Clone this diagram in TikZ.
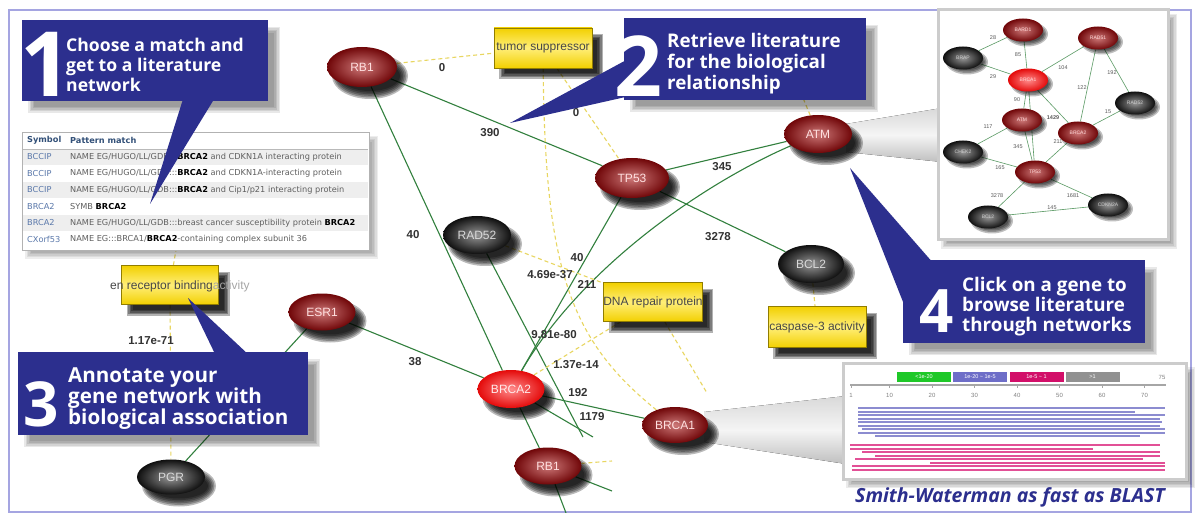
\documentclass[tikz,border=0pt]{standalone}
\usepackage{fontspec}
\setmainfont{Liberation Sans}
\newfontfamily\callfont{Open Sans}
\newfontfamily\tabfont{DejaVu Sans}
\usetikzlibrary{shapes.geometric}
\definecolor{blueC}{RGB}{44,47,142}
\definecolor{frameC}{RGB}{165,165,225}
\definecolor{edgeG}{RGB}{50,128,62}
\definecolor{dashY}{RGB}{232,214,96}
\definecolor{boxY}{RGB}{242,208,0}
\definecolor{boxYl}{RGB}{255,238,120}
\definecolor{redO}{RGB}{112,6,8}
\definecolor{redI}{RGB}{205,120,120}
\definecolor{hotO}{RGB}{228,10,10}
\definecolor{hotI}{RGB}{255,140,140}
\definecolor{blkO}{RGB}{15,15,15}
\definecolor{blkI}{RGB}{150,150,150}
\definecolor{labC}{RGB}{50,50,50}
\definecolor{tabSym}{RGB}{90,120,170}
\definecolor{tabTxt}{RGB}{95,95,95}
\definecolor{tabHead}{RGB}{50,80,120}
\definecolor{lavB}{RGB}{140,140,208}
\definecolor{pinkB}{RGB}{226,80,150}
\definecolor{lgG}{RGB}{30,200,40}
\definecolor{lgL}{RGB}{110,110,200}
\definecolor{lgM}{RGB}{210,15,105}
\definecolor{lgK}{RGB}{145,145,145}
% soft shadow of an ellipse: centre x, y, width, height, offset
\newcommand\eshad[5]{\foreach \k in {0,...,5}{\fill[black,opacity=0.27] (#1+#5,#2+#5+1) ellipse [x radius={#3/2+3-1.6*\k}, y radius={#4/2+3-1.6*\k}];}}
% soft shadow of a rectangle: x1, y1, x2, y2, offset, opacity
\newcommand\rshad[6]{\foreach \k in {0,...,4}{\fill[black,opacity=#6] (#1+#5-3+1.5*\k,#2+#5-2+1.5*\k) rectangle (#3+#5+3-1.5*\k,#4+#5+3-1.5*\k);}}
\tikzset{
 ph/.style={ellipse, inner sep=0},
 phb/.style={rectangle, inner sep=0},
 gene/.style={ellipse, minimum width=68, minimum height=38, inner sep=0,
   font=\fontsize{12}{12}\selectfont},
 redgene/.style={gene, inner color=redI, outer color=redO, text=white!88!red},
 hotgene/.style={gene, inner color=hotI, outer color=hotO, text=white!92!red},
 blkgene/.style={gene, inner color=blkI, outer color=blkO, text=white!85!black},
 mgene/.style={ellipse, minimum width=40, minimum height=23, inner sep=0,
   font=\fontsize{5}{5}\selectfont},
 mred/.style={mgene, inner color=redI, outer color=redO, text=white!85!red},
 mhot/.style={mgene, inner color=hotI, outer color=hotO, text=white!85!red},
 mblk/.style={mgene, inner color=blkI, outer color=blkO, text=white!80!black},
 ybox/.style={rectangle, minimum width=98, minimum height=40, inner sep=0,
   draw=boxY!60!black, top color=boxY, bottom color=boxY, middle color=boxYl,
   text=black!72, font=\fontsize{12}{12}\selectfont},
 gedge/.style={edgeG, line width=1.1},
 yedge/.style={dashY, line width=1.1, dash pattern=on 4pt off 3pt},
 medge/.style={edgeG!80, line width=0.6},
 elab/.style={font=\bfseries\fontsize{11.5}{11.5}\selectfont, text=labC, inner sep=0},
 mlab/.style={font=\fontsize{5.5}{5.5}\selectfont, text=black!65, inner sep=0},
 callbox/.style={rectangle, fill=blueC, inner sep=0},
 calldig/.style={text=white, anchor=base, inner sep=0},
 calltext/.style={text=white, anchor=north west, align=left, inner sep=0},
 panel/.style={rectangle, fill=white, draw=gray!40, line width=3, inner sep=0},
 tabtxt/.style={font=\tabfont\fontsize{8.2}{8.2}\selectfont, anchor=west, inner sep=0},
 lgbox/.style={rectangle, minimum width=54, minimum height=10, inner sep=0, text=white, font=\fontsize{5.5}{5.5}\selectfont},
 ticklab/.style={font=\fontsize{6}{6}\selectfont, text=gray, inner sep=0},
}
\begin{document}
\begin{tikzpicture}[x=1pt,y=-1pt]
\useasboundingbox (0,0) rectangle (1197,513);
\fill[white] (0,0) rectangle (1197,513);
\draw[frameC, line width=2] (9,10) rectangle (1191,512);
% gray cones
\fill[top color=gray!30, bottom color=gray!50, middle color=gray!8] (846,124) -- (942,108) -- (942,162) -- (846,152) -- cycle;
\fill[top color=gray!30, bottom color=gray!50, middle color=gray!8] (704,412) -- (846,396) -- (846,464) -- (704,442) -- cycle;

% ---------- free ends ----------
\coordinate (c1) at (583,437);
\coordinate (c2) at (593,437);
\coordinate (c3) at (612,491);
\coordinate (c4) at (566,513);
\coordinate (c5) at (803,98);
\coordinate (c6) at (707,393);
\coordinate (c7) at (612,461);
\coordinate (c8) at (176,250);

% ---------- node outlines (for connector ends) ----------
\node[ph, minimum width=70, minimum height=40] (rbA) at (362,67) {};
\node[phb, minimum width=98, minimum height=40] (ts) at (543,48) {};
\node[ph, minimum width=74, minimum height=40] (tp53) at (632,178) {};
\node[ph, minimum width=68, minimum height=38] (atm) at (818,134) {};
\node[ph, minimum width=68, minimum height=38] (rad52) at (477,235) {};
\node[ph, minimum width=66, minimum height=38] (bcl2) at (811,264) {};
\node[phb, minimum width=98, minimum height=41] (casp) at (817,327) {};
\node[phb, minimum width=98, minimum height=39] (dna) at (653,302) {};
\node[ph, minimum width=67, minimum height=38] (brca2) at (511,389) {};
\node[ph, minimum width=66, minimum height=36] (brca1) at (675,425) {};
\node[ph, minimum width=67, minimum height=37] (rbB) at (548,466) {};
\node[ph, minimum width=67, minimum height=37] (esr1) at (322,312) {};
\node[ph, minimum width=68, minimum height=35] (pgr) at (171,477) {};
\node[phb, minimum width=97, minimum height=39] (erb) at (170,285) {};

% ---------- edges ----------
\draw[gedge] (rbA) -- (tp53);
\draw[gedge] (rbA) -- (brca2);
\draw[gedge] (tp53) -- (atm);
\draw[gedge] (tp53) -- (brca2);
\draw[gedge] (atm) .. controls (700,185) and (580,270) .. (brca2);
\draw[gedge] (tp53) -- (bcl2);
\draw[gedge] (esr1) -- (brca2);
\draw[gedge] (esr1) -- (pgr);
\draw[gedge] (rad52) -- (c1);
\draw[gedge] (brca2) -- (c2);
\draw[gedge] (brca2) -- (brca1);
\draw[gedge] (brca2) -- (rbB);
\draw[gedge] (rbB) -- (c3);
\draw[gedge] (rbB) -- (c4);
\draw[yedge] (rbA) -- (ts);
\draw[yedge] (ts) -- (tp53);
\draw[yedge] (ts) .. controls (545,270) and (570,340) .. (brca1);
\draw[yedge] (rad52) -- (dna);
\draw[yedge] (brca2) -- (dna);
\draw[yedge] (dna) -- (c6);
\draw[yedge] (bcl2) -- (casp);
\draw[yedge] (erb) -- (pgr);
\draw[yedge] (rbB) -- (c7);
\draw[yedge] (atm) -- (c5);
\draw[yedge] (erb) -- (c8);

% ---------- shadows ----------
\eshad{362}{67}{70}{40}{8}
\eshad{632}{178}{74}{40}{8}
\eshad{818}{134}{68}{38}{8}
\eshad{477}{235}{68}{38}{8}
\eshad{811}{264}{66}{38}{8}
\eshad{511}{389}{67}{38}{8}
\eshad{675}{425}{66}{36}{8}
\eshad{548}{466}{67}{37}{8}
\eshad{322}{312}{67}{37}{8}
\eshad{171}{477}{68}{35}{8}
\rshad{494}{28}{592}{68}{8}{0.3}
\rshad{768}{306.5}{866}{347.5}{8}{0.3}
\rshad{604}{282.5}{702}{321.5}{8}{0.3}
\rshad{121.5}{265.5}{218.5}{304.5}{8}{0.3}

% ---------- network nodes ----------
\node[redgene, minimum width=70, minimum height=40] (rbA) at (362,67) {RB1};
\node[ybox] (ts) at (543,48) {tumor suppressor};
\node[redgene, minimum width=74, minimum height=40] (tp53) at (632,178) {TP53};
\node[redgene] (atm) at (818,134) {ATM};
\node[blkgene] (rad52) at (477,235) {RAD52};
\node[blkgene, minimum width=66] (bcl2) at (811,264) {BCL2};
\node[ybox, minimum height=41] (casp) at (817,327) {caspase-3 activity};
\node[ybox, minimum height=39] (dna) at (653,302) {DNA repair protein};
\node[hotgene, minimum width=67] (brca2) at (511,389) {BRCA2};
\node[redgene, minimum width=66, minimum height=36] (brca1) at (675,425) {BRCA1};
\node[redgene, minimum width=67, minimum height=37] (rbB) at (548,466) {RB1};
\node[redgene, minimum width=67, minimum height=37] (esr1) at (322,312) {ESR1};
\node[blkgene, minimum height=35] (pgr) at (171,477) {PGR};
\node[ybox, minimum width=97, minimum height=39] (erb) at (170,285) {};
\node[font=\fontsize{12}{12}\selectfont, text=black!72, anchor=west, inner sep=0] (erbt) at (110,286) {en receptor binding\textcolor{black!35}{ activity}};

% ---------- edge labels ----------
\node[elab] (l1) at (442,68) {0};
\node[elab] (l2) at (576,113) {0};
\node[elab] (l3) at (490,133) {390};
\node[elab] (l4) at (722,167) {345};
\node[elab] (l5) at (413,235) {40};
\node[elab] (l6) at (718,237) {3278};
\node[elab] (l7) at (577,258) {40};
\node[elab] (l8) at (550,275) {4.69e-37};
\node[elab] (l9) at (587,284) {211};
\node[elab] (l10) at (554,335) {9.81e-80};
\node[elab] (l11) at (576,365) {1.37e-14};
\node[elab] (l12) at (578,393) {192};
\node[elab] (l13) at (592,417) {1179};
\node[elab] (l14) at (415,362) {38};
\node[elab] (l15) at (151,341) {1.17e-71};

% ---------- table ----------
\rshad{22}{132}{369}{250}{6}{0.07}
\node[rectangle, fill=white, draw=gray!60, minimum width=347, minimum height=118, inner sep=0] (tbl) at (195.5,191) {};
\foreach \yy in {157,190,223} {\fill[gray!13] (23,\yy-8) rectangle (368,\yy+8);}
\draw[gray!55] (23,149) -- (368,149);
\node[tabtxt, text=tabHead, font=\tabfont\bfseries\fontsize{8.2}{8.2}\selectfont] (th1) at (27,140) {Symbol};
\node[tabtxt, text=tabHead, font=\tabfont\bfseries\fontsize{8.2}{8.2}\selectfont] (th2) at (70,140) {Pattern match};
\node[tabtxt, text=tabSym] (s1) at (27,157) {BCCIP};
\node[tabtxt, text=tabSym] (s2) at (27,173.5) {BCCIP};
\node[tabtxt, text=tabSym] (s3) at (27,190) {BCCIP};
\node[tabtxt, text=tabSym] (s4) at (27,206.5) {BRCA2};
\node[tabtxt, text=tabSym] (s5) at (27,223) {BRCA2};
\node[tabtxt, text=tabSym] (s6) at (27,239.5) {CXorf53};
\node[tabtxt, text=tabTxt] (r1) at (70,157) {NAME EG/HUGO/LL/GDB:::\textcolor{black}{\bfseries BRCA2} and CDKN1A interacting protein};
\node[tabtxt, text=tabTxt] (r2) at (70,173.5) {NAME EG/HUGO/LL/GDB:::\textcolor{black}{\bfseries BRCA2} and CDKN1A-interacting protein};
\node[tabtxt, text=tabTxt] (r3) at (70,190) {NAME EG/HUGO/LL/GDB:::\textcolor{black}{\bfseries BRCA2} and Cip1/p21 interacting protein};
\node[tabtxt, text=tabTxt] (r4) at (70,206.5) {SYMB \textcolor{black}{\bfseries BRCA2}};
\node[tabtxt, text=tabTxt] (r5) at (70,223) {NAME EG/HUGO/LL/GDB:::breast cancer susceptibility protein \textcolor{black}{\bfseries BRCA2}};
\node[tabtxt, text=tabTxt] (r6) at (70,239.5) {NAME EG:::BRCA1/\textcolor{black}{\bfseries BRCA2}-containing complex subunit 36};

% ---------- inset network panel ----------
\rshad{938}{10}{1168}{240}{6}{0.08}
\node[panel, minimum width=230, minimum height=230] (ins) at (1053,125) {};
\node[ph, minimum width=40, minimum height=23] (iBARD1) at (1023,30) {};
\node[ph, minimum width=40, minimum height=23] (iRAD51) at (1098,38) {};
\node[ph, minimum width=40, minimum height=23] (iBRAP) at (963,58) {};
\node[ph, minimum width=40, minimum height=23] (iBRCA1) at (1028,80) {};
\node[ph, minimum width=40, minimum height=23] (iRAD52) at (1135,103) {};
\node[ph, minimum width=40, minimum height=23] (iATM) at (1022,120) {};
\node[ph, minimum width=40, minimum height=23] (iBRCA2) at (1078,133) {};
\node[ph, minimum width=40, minimum height=23] (iCHEK2) at (963,152) {};
\node[ph, minimum width=40, minimum height=23] (iTP53) at (1035,172) {};
\node[ph, minimum width=40, minimum height=23] (iCDKN2A) at (1108,205) {};
\node[ph, minimum width=40, minimum height=23] (iBCL2) at (988,217) {};
\draw[medge] (iBRAP) -- (iBARD1);
\draw[medge] (iBARD1) -- (iBRCA1);
\draw[medge] (iBRAP) -- (iBRCA1);
\draw[medge] (iBRCA1) -- (iRAD51);
\draw[medge] (iRAD51) -- (iRAD52);
\draw[medge] (iRAD51) -- (iBRCA2);
\draw[medge] (iBRCA1) -- (iATM);
\draw[medge] (iBRCA1) -- (iTP53);
\draw[medge] (iBRCA1) -- (iBRCA2);
\draw[medge] (iBRCA2) -- (iRAD52);
\draw[medge] (iATM) -- (iCHEK2);
\draw[medge] (iATM) -- (iTP53);
\draw[medge] (iBRCA2) -- (iTP53);
\draw[medge] (iCHEK2) -- (iTP53);
\draw[medge] (iTP53) -- (iBCL2);
\draw[medge] (iTP53) -- (iCDKN2A);
\draw[medge] (iBCL2) -- (iCDKN2A);
\foreach \xx/\yy in {1023/30,1098/38,963/58,1028/80,1135/103,1022/120,1078/133,963/152,1035/172,1108/205,988/217}
  {\foreach \k in {0,...,3}{\fill[black,opacity=0.25] (\xx+4,\yy+4) ellipse [x radius={21-1.5*\k}, y radius={12.5-1.5*\k}];}}
\node[mred] (iBARD1) at (1023,30) {BARD1};
\node[mred] (iRAD51) at (1098,38) {RAD51};
\node[mblk] (iBRAP) at (963,58) {BRAP};
\node[mhot] (iBRCA1) at (1028,80) {BRCA1};
\node[mblk] (iRAD52) at (1135,103) {RAD52};
\node[mred] (iATM) at (1022,120) {ATM};
\node[mred] (iBRCA2) at (1078,133) {BRCA2};
\node[mblk] (iCHEK2) at (963,152) {CHEK2};
\node[mred] (iTP53) at (1035,172) {TP53};
\node[mblk] (iCDKN2A) at (1108,205) {CDKN2A};
\node[mblk] (iBCL2) at (988,217) {BCL2};
\node[mlab] (m1) at (993,38) {28};
\node[mlab] (m2) at (1018,55) {85};
\node[mlab] (m3) at (993,77) {29};
\node[mlab] (m4) at (1063,68) {104};
\node[mlab] (m5) at (1112,73) {192};
\node[mlab] (m6) at (1082,88) {122};
\node[mlab] (m7) at (1017,100) {90};
\node[mlab, font=\bfseries\fontsize{5.5}{5.5}\selectfont] (m8) at (1053,118) {1429};
\node[mlab] (m9) at (1108,112) {15};
\node[mlab] (m10) at (988,127) {117};
\node[mlab] (m11) at (1018,147) {345};
\node[mlab] (m12) at (1058,142) {211};
\node[mlab] (m13) at (1000,168) {165};
\node[mlab] (m14) at (997,196) {3278};
\node[mlab] (m15) at (1073,196) {1681};
\node[mlab] (m16) at (1052,208) {145};

% ---------- Smith-Waterman panel ----------
\rshad{843}{363}{1186}{479}{6}{0.08}
\node[panel, minimum width=343, minimum height=116] (swp) at (1014.5,421) {};
\node[lgbox, fill=lgG] (lg1) at (924,377) {<1e-20};
\node[lgbox, fill=lgL] (lg2) at (980,377) {1e-20 \textasciitilde{} 1e-5};
\node[lgbox, fill=lgM] (lg3) at (1036.5,377) {1e-5 \textasciitilde{} 1};
\node[lgbox, fill=lgK] (lg4) at (1092.5,377) {>1};
\node[ticklab] (t75) at (1162,377) {75};
\draw[gray!70, line width=1.4] (850,385) -- (1166,385);
\foreach \v/\xx in {1/851,10/889.5,20/932,30/974.5,40/1017,50/1059.5,60/1102,70/1144.5} {
  \draw[gray!70] (\xx,385) -- (\xx,388);
  \node[ticklab] at (\xx,395) {\v};
}
\foreach \yy/\xa/\xb in {408/858/1165,411.5/858/1135,415/858/1165,418.5/858/1160,422/858/1162,425.5/858/1160,429/862/1165,432.5/858/1165,436/875/1140}
  {\draw[lavB, line width=2] (\xa,\yy) -- (\xb,\yy);}
\foreach \yy/\xa/\xb in {445/850/1160,448.5/850/1093,452/862/1160,455.5/875/1160,459/855/1143,462.5/930/1165,466/852/1165,469.5/852/1165}
  {\draw[pinkB, line width=2] (\xa,\yy) -- (\xb,\yy);}
\node[font=\callfont\bfseries\itshape\fontsize{19.5}{19.5}\selectfont, text=blueC, inner sep=0] (cap) at (1010,497) {Smith-Waterman as fast as BLAST};

% ---------- callouts ----------
\rshad{22}{20}{268}{101}{9}{0.09}
\node[callbox, minimum width=246, minimum height=81] (co1) at (145,60.5) {};
\fill[blueC] (150,204) -- (184,96) -- (216,96) -- cycle;
\node[calldig, font=\callfont\bfseries\fontsize{90}{90}\selectfont] (d1) at (46,97) {1};
\node[calltext, font=\callfont\bfseries\fontsize{17.6}{20}\selectfont] (t1) at (66,37.6) {Choose a match and\\get to a literature\\network};

\rshad{624}{18}{866}{100}{9}{0.09}
\node[callbox, minimum width=242, minimum height=82] (co2) at (745,59) {};
\fill[blueC] (510,123) -- (630,58) -- (630,96) -- cycle;
\node[calldig, font=\callfont\bfseries\fontsize{84}{84}\selectfont] (d2) at (638,97) {2};
\node[calltext, font=\callfont\bfseries\fontsize{18.8}{21}\selectfont] (t2) at (667,32.7) {Retrieve literature\\for the biological\\relationship};

\rshad{18}{352}{308}{435}{9}{0.09}
\node[callbox, minimum width=290, minimum height=83] (co3) at (163,393.5) {};
\fill[blueC] (188,298) -- (216,356) -- (250,356) -- cycle;
\node[calldig, font=\callfont\bfseries\fontsize{62}{62}\selectfont] (d3) at (41,426) {3};
\node[calltext, font=\callfont\bfseries\fontsize{20.6}{21}\selectfont] (t3) at (68,367.3) {Annotate your\\gene network with\\biological association};

\rshad{903}{260}{1145}{343}{9}{0.09}
\node[callbox, minimum width=242, minimum height=83] (co4) at (1024,301.5) {};
\fill[blueC] (850,168) -- (907,312) -- (934,264) -- cycle;
\node[calldig, font=\callfont\bfseries\fontsize{60}{60}\selectfont] (d4) at (937,332) {4};
\node[calltext, font=\callfont\bfseries\fontsize{18.8}{20}\selectfont] (t4) at (962,276.7) {Click on a gene to\\browse literature\\through networks};
\end{tikzpicture}
\end{document}
